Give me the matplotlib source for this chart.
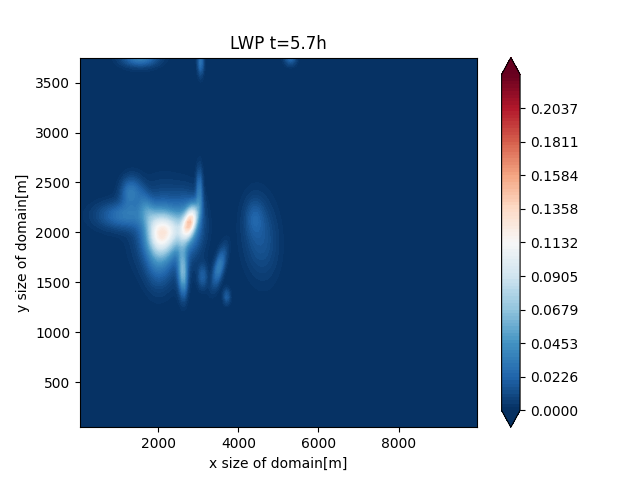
import numpy as np
import matplotlib.pyplot as plt
from matplotlib.ticker import FormatStrFormatter

# grid of the domain [m]
x = np.arange(50, 10000, 50)
y = np.arange(50, 3800, 50)

# cloud patches: centre [m], peak LWP, spread [m], tilt [deg]
blob_x = [2080, 2150, 2800, 2750, 2450, 3030, 1150, 1300, 1700, 2610, 2640, 3520,
          3110, 3710, 2000, 4550, 4400, 1550, 3060, 5300]
blob_y = [1990, 2000, 2110, 2080, 2030, 2420, 2170, 2400, 2250, 1640, 1500, 1650,
          1560, 1360, 1750, 1950, 2150, 3760, 3710, 3760]
blob_a = [0.075, 0.035, 0.095, 0.035, 0.025, 0.03, 0.03, 0.03, 0.02, 0.045, 0.02, 0.035,
          0.02, 0.02, 0.02, 0.016, 0.012, 0.04, 0.03, 0.03]
blob_sx = [240, 420, 150, 230, 250, 50, 450, 160, 200, 80, 60, 160,
           80, 60, 200, 260, 150, 300, 50, 100]
blob_sy = [140, 260, 80, 180, 100, 150, 90, 100, 100, 150, 120, 70,
           80, 50, 200, 300, 120, 60, 90, 50]
blob_ang = [0, 0, 35, 0, 0, 0, 0, 0, -40, 0, 0, 50,
            0, 0, 0, 60, 0, 0, 0, 0]

cbar_step = 0.022633
cbar_ticks = cbar_step * np.arange(10)
lwp_max = 10 * cbar_step

X, Y = np.meshgrid(x, y)
lwp = np.zeros(X.shape)
for cx, cy, a, sx, sy, ang in zip(blob_x, blob_y, blob_a, blob_sx, blob_sy, blob_ang):
    t = np.deg2rad(ang)
    u = (X - cx) * np.cos(t) + (Y - cy) * np.sin(t)
    v = -(X - cx) * np.sin(t) + (Y - cy) * np.cos(t)
    lwp += a * np.exp(-0.5 * ((u / sx) ** 2 + (v / sy) ** 2))

fig = plt.figure(figsize=(6.4, 4.8))
levels = np.linspace(0, lwp_max, 101)
cs = plt.contourf(X, Y, lwp, levels=levels, cmap='RdBu_r', extend='both')
cb = plt.colorbar(cs, ticks=cbar_ticks)
cb.ax.yaxis.set_major_formatter(FormatStrFormatter('%.4f'))
plt.title('LWP t=5.7h')
plt.xlabel('x size of domain[m]')
plt.ylabel('y size of domain[m]')

plt.savefig('out.png', dpi=100)
